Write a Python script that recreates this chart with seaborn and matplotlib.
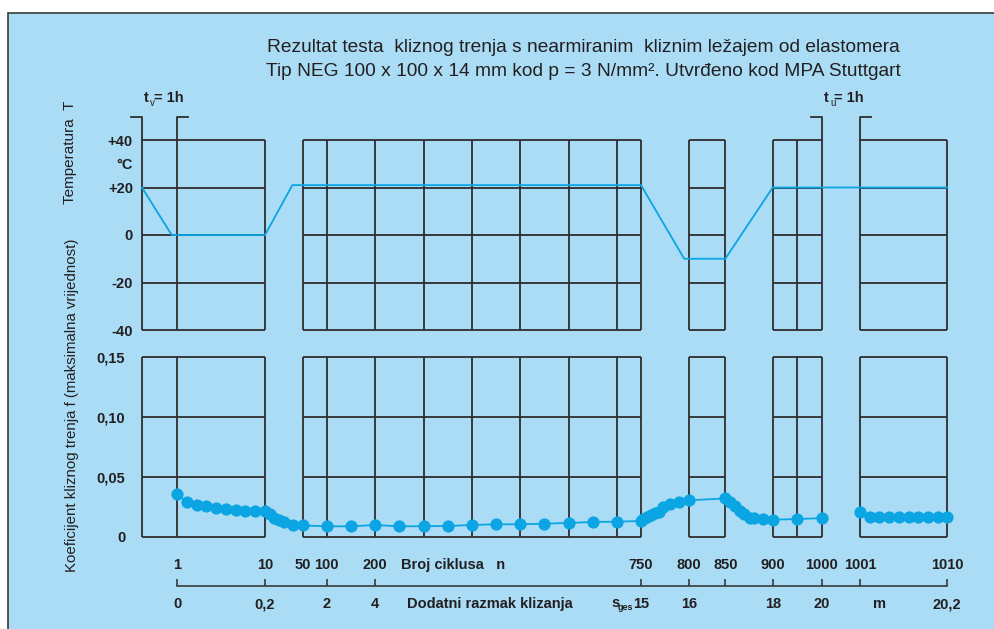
import numpy as np
import pandas as pd
import matplotlib
matplotlib.use("Agg")
import matplotlib.pyplot as plt
import matplotlib.transforms as mtrans
from matplotlib.lines import Line2D
from matplotlib.patches import Rectangle
import seaborn as sns

# ---------------- data ----------------
# temperature programme; x = cycle number n (0..1 is the 1 h conditioning t_v)
temp_n = [0, 0.85, 10, 39, 750, 795, 850, 900, 1010]
temp_T = [20, 0, 0, 21, 21, -10, -10, 20, 20]

# friction coefficient (maximum value) vs cycle number
fric_n_a = [1, 2, 3, 4, 5, 6, 7, 8, 9, 10,
            15, 20, 25, 30, 40, 50,
            100, 150, 200, 250, 300, 350, 400, 450, 500, 550, 600, 650, 700, 750,
            752, 756, 760, 765, 769, 773, 780, 790, 800,
            850, 855, 860, 866, 870, 876, 880, 890, 900, 950, 1000]
fric_f_a = [0.0358, 0.0289, 0.0264, 0.0256, 0.0239, 0.0231, 0.0225, 0.0219, 0.0217, 0.0214,
            0.0189, 0.0161, 0.0142, 0.0125, 0.0098, 0.0096,
            0.0089, 0.0089, 0.0100, 0.0089, 0.0090, 0.0092, 0.0100, 0.0106, 0.0106,
            0.0111, 0.0117, 0.0125, 0.0128, 0.0133,
            0.0148, 0.0164, 0.0181, 0.0198, 0.0211, 0.0248, 0.0275, 0.0294, 0.0306,
            0.0321, 0.0294, 0.0258, 0.0219, 0.0192, 0.0161, 0.0156, 0.0150, 0.0144, 0.0150, 0.0157]
fric_n_b = [1001, 1002, 1003, 1004, 1005, 1006, 1007, 1008, 1009, 1010]
fric_f_b = [0.0211, 0.0167, 0.0163, 0.0164, 0.0164, 0.0164, 0.0164, 0.0164, 0.0164, 0.0164]

# grid boxes (cycle range, inner vertical lines)
box_ranges = [(0, 10), (50, 750), (800, 850), (900, 1000), (1001, 1010)]
box_inner = [[1], [100, 200, 300, 400, 500, 600, 700], [], [950], []]

temp_ticks = [40, 30, 20, 0, -20, -40]
temp_labels = ["+40", "°C", "+20", "0", "-20", "-40"]
temp_grid = [40, 20, 0, -20, -40]
fric_ticks = [0.15, 0.10, 0.05, 0]
fric_labels = ["0,15", "0,10", "0,05", "0"]

cycle_label_n = [1, 10, 50, 100, 200, 750, 800, 850, 900, 1000, 1001, 1010]
cycle_labels = ["1", "10", "50", "100", "200", "750", "800", "850", "900", "1000", "1001", "1010"]
dist_tick_n = [1, 10, 100, 200, 750, 800, 850, 900, 1000, 1001, 1010]
dist_labels = ["0", "0,2", "2", "4", "15", "16", "", "18", "20", "", "20,2"]

title1 = "Rezultat testa  kliznog trenja s nearmiranim  kliznim ležajem od elastomera"
title2 = "Tip NEG 100 x 100 x 14 mm kod p = 3 N/mm². Utvrđeno kod MPA Stuttgart"

# ---------------- layout (piecewise axis) ----------------
W, H = 994, 629
N_BREAK = [0, 1, 10, 50, 750, 800, 850, 900, 1000, 1001, 1010]
P_BREAK = [142, 177, 265, 302.7, 641, 689, 725.3, 772.7, 822, 860, 947.3]

def fwd(x):
    return np.interp(x, N_BREAK, P_BREAK)

def inv(p):
    return np.interp(p, P_BREAK, N_BREAK)

BG = "#aadcf6"
GRID = "#2e2e2e"
TXT = "#231f20"
LINEC = "#0aa5e2"

plt.rcParams["font.family"] = ["Liberation Sans", "DejaVu Sans"]

fig = plt.figure(figsize=(W / 100, H / 100), dpi=100, facecolor="white")

def fx(px):
    return px / W

def fy(py):
    return 1 - py / H

bg = Rectangle((fx(8), -0.01), 1.02, fy(13) + 0.01, transform=fig.transFigure,
               facecolor=BG, edgecolor="#3a3a3a", lw=1.2, zorder=-10)
fig.patches.append(bg)

def ftext(px, py, s, **kw):
    kw.setdefault("color", TXT)
    return fig.text(fx(px), fy(py), s, **kw)

def fline(xs, ys, **kw):
    fig.add_artist(Line2D([fx(x) for x in xs], [fy(y) for y in ys],
                          transform=fig.transFigure, color=GRID, lw=1.3, **kw))

x0, x1 = P_BREAK[0], P_BREAK[-1]
ax_t = fig.add_axes([fx(x0), fy(330), (x1 - x0) / W, 190 / H])
ax_f = fig.add_axes([fx(x0), fy(537), (x1 - x0) / W, 180 / H])

# ---------------- data marks ----------------
temp_df = pd.DataFrame({"n": temp_n, "T": temp_T})
sns.lineplot(data=temp_df, x="n", y="T", ax=ax_t, color=LINEC, lw=1.3,
             estimator=None, sort=False, legend=False, zorder=5)

fric_df = pd.concat([
    pd.DataFrame({"n": fric_n_a, "f": fric_f_a, "seg": 0}),
    pd.DataFrame({"n": fric_n_b, "f": fric_f_b, "seg": 1}),
])
sns.lineplot(data=fric_df, x="n", y="f", units="seg", ax=ax_f, color=LINEC,
             lw=1.3, marker="o", markersize=8.8, markeredgewidth=0,
             estimator=None, sort=False, legend=False, zorder=5)

for ax in (ax_t, ax_f):
    for ln in ax.lines:
        ln.set_clip_on(False)
    ax.set_xscale("function", functions=(fwd, inv))
    ax.set_xlim(0, 1010)
    ax.set_facecolor("none")
    ax.set_xlabel("")
    ax.set_ylabel("")
    for sp in ax.spines.values():
        sp.set_visible(False)

ax_t.set_ylim(-40, 40)
ax_f.set_ylim(0, 0.15)

# boxes
for ax, levels, (lo, hi) in ((ax_t, temp_grid, (-40, 40)), (ax_f, [0, 0.05, 0.10, 0.15], (0, 0.15))):
    for (a, b), inner in zip(box_ranges, box_inner):
        ax.hlines(levels, a, b, colors=GRID, lw=1.3, zorder=2, clip_on=False)
        ax.vlines([a, b] + inner, lo, hi, colors=GRID, lw=1.3, zorder=2, clip_on=False)

# y tick labels
ax_t.set_yticks(temp_ticks, temp_labels)
ax_t.tick_params(axis="y", length=0, pad=6.5, labelsize=10.5, labelcolor=TXT)
ax_f.set_yticks(fric_ticks, fric_labels)
ax_f.tick_params(axis="y", length=0, pad=12, labelsize=10.5, labelcolor=TXT)
for lbl in ax_t.get_yticklabels() + ax_f.get_yticklabels():
    lbl.set_fontweight("bold")

ax_t.set_xticks([])

# bottom scale (distance)
sp = ax_f.spines["bottom"]
sp.set_visible(True)
sp.set_position(("outward", 49 * 0.72))
sp.set_bounds(1, 1010)
sp.set_color(GRID)
sp.set_linewidth(1.1)
ax_f.set_xticks(dist_tick_n, dist_labels)
ax_f.xaxis.set_minor_locator(matplotlib.ticker.NullLocator())
ax_f.tick_params(axis="x", direction="in", length=5, width=1.1, color=GRID,
                 pad=8, labelsize=10.5, labelcolor=TXT)
for lbl in ax_f.get_xticklabels():
    lbl.set_fontweight("bold")

# cycle-number row
blend = mtrans.blended_transform_factory(ax_f.transData, ax_f.transAxes)
for n, s in zip(cycle_label_n, cycle_labels):
    ax_f.text(n, -28 / 180, s, transform=blend, ha="center", va="center",
              fontsize=10.5, fontweight="bold", color=TXT)

# ---------------- annotations ----------------
ftext(583, 47, title1, ha="center", va="center", fontsize=13.8)
ftext(583, 72, title2, ha="center", va="center", fontsize=13.8)

ftext(70, 152, "Temperatura  T", rotation=90, ha="center", va="center", fontsize=11)
ftext(72, 405, "Koeficijent kliznog trenja f (maksimalna vrijednost)", rotation=90,
      ha="center", va="center", fontsize=10.8)

ftext(401, 565, "Broj ciklusa   n", ha="left", va="center", fontsize=10.5, fontweight="bold")
ftext(407, 604, "Dodatni razmak klizanja", ha="left", va="center", fontsize=10.5, fontweight="bold")
ftext(611, 603, "s", ha="left", va="center", fontsize=10.5, fontweight="bold")
ftext(618, 608, "ges", ha="left", va="center", fontsize=6.5, fontweight="bold")
ftext(880, 604, "m", ha="center", va="center", fontsize=10.5, fontweight="bold")

# t_v / t_u brackets
for (na, nb), lab, sub in (((0, 1), "t", "v"), ((1000, 1001), "t", "u")):
    pa, pb = float(fwd(na)), float(fwd(nb))
    fline([pa - 11, pa, pa], [117, 117, 140])
    fline([pb + 11, pb, pb], [117, 117, 140])
    ftext(pa + 1.5, 98, lab, ha="left", va="center", fontsize=10.5, fontweight="bold")
    ftext(pa + 8, 103, sub, ha="left", va="center", fontsize=7)
    ftext(pa + 12, 98, "= 1h", ha="left", va="center", fontsize=10.5, fontweight="bold")

fig.savefig("out.png", dpi=100, facecolor="white")
